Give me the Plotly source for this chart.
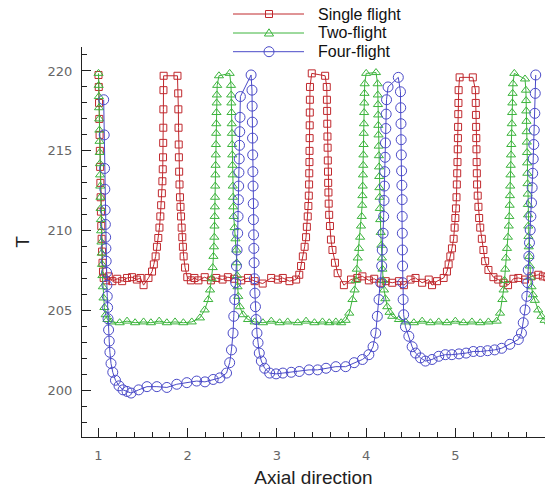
import plotly.graph_objects as go

# Axial temperature profiles for single-, two- and four-flight screws
single_x = [1.000, 1.003, 1.006, 1.009, 1.012, 1.015, 1.018, 1.021, 1.024, 1.027, 1.031, 1.035, 1.040, 1.045, 1.050, 1.058,
            1.085, 1.115, 1.155, 1.21, 1.265, 1.32, 1.375, 1.43, 1.47, 1.505, 1.56,
            1.60, 1.62, 1.64, 1.655, 1.67, 1.683, 1.693, 1.702, 1.71, 1.716, 1.72, 1.723, 1.725, 1.726, 1.727, 1.728, 1.73, 1.885,
            1.893, 1.895, 1.897, 1.899, 1.901, 1.904, 1.908, 1.913, 1.919, 1.925, 1.932, 1.939, 1.946, 1.954, 1.97, 1.995, 2.035,
            2.075, 2.12, 2.19, 2.26, 2.32, 2.39, 2.45, 2.52, 2.60, 2.675, 2.75, 2.84, 2.935, 3.01, 3.065, 3.14, 3.215,
            3.25, 3.27, 3.29, 3.31, 3.326, 3.335, 3.345, 3.352, 3.357, 3.36, 3.362, 3.364, 3.365, 3.366, 3.367, 3.368, 3.369, 3.37, 3.39, 3.54,
            3.558, 3.56, 3.562, 3.564, 3.566, 3.568, 3.57, 3.572, 3.574, 3.577, 3.58, 3.585, 3.594, 3.605, 3.622, 3.65, 3.68, 3.75,
            3.83, 3.90, 3.958, 4.03, 4.09, 4.163, 4.219, 4.292, 4.367, 4.423, 4.497, 4.553, 4.627, 4.701, 4.738, 4.794, 4.868,
            4.905, 4.924, 4.943, 4.961, 4.98, 4.991, 4.999, 5.006, 5.012, 5.016, 5.02, 5.023, 5.026, 5.028, 5.03, 5.032, 5.034, 5.036, 5.047, 5.195,
            5.225, 5.228, 5.23, 5.232, 5.234, 5.236, 5.238, 5.24, 5.243, 5.25, 5.258, 5.266, 5.278, 5.296, 5.314, 5.333, 5.37, 5.426, 5.48, 5.537, 5.59,
            5.65, 5.705, 5.78, 5.853, 5.93, 5.98, 6.03]
single_y = [219.75, 219.0, 218.0, 217.0, 216.0, 215.0, 214.0, 213.0, 212.1, 211.2, 210.3, 209.5, 208.7, 208.0, 207.45, 207.05,
            206.9, 207.15, 206.85, 207.0, 206.85, 207.05, 207.1, 206.95, 207.05, 206.6, 207.05,
            207.45, 207.9, 208.4, 209.0, 209.55, 210.2, 210.9, 211.6, 212.35, 213.1, 213.85, 214.6, 215.5, 216.45, 217.6, 218.8, 219.7, 219.7,
            218.6, 217.6, 216.45, 215.4, 214.6, 213.7, 212.9, 212.1, 211.5, 210.9, 210.2, 209.6, 209.0, 208.4, 207.7, 207.1, 206.9,
            207.05, 206.9, 207.1, 206.9, 207.05, 206.95, 207.1, 207.0, 206.9, 207.05, 206.85, 206.7, 207.05, 206.95, 207.05, 206.85, 206.95,
            207.25, 207.8, 208.4, 209.0, 209.6, 210.25, 210.9, 211.55, 212.2, 212.9, 213.6, 214.3, 215.0, 215.8, 216.6, 217.4, 218.2, 219.0, 219.85, 219.7,
            219.0, 218.2, 217.5, 216.7, 215.9, 215.2, 214.4, 213.7, 213.0, 212.4, 211.7, 211.0, 210.3, 209.45, 208.8, 208.0, 207.35, 206.6,
            206.95, 207.05, 207.15, 206.9, 207.0, 206.75, 206.85, 206.75, 206.85, 206.6, 206.95, 207.05, 206.75, 206.95, 206.6, 206.85, 207.05,
            207.45, 207.9, 208.4, 208.9, 209.5, 210.2, 210.8, 211.4, 212.1, 212.9, 213.6, 214.3, 215.1, 215.8, 216.5, 217.3, 218.0, 218.8, 219.6, 219.6,
            218.8, 218.0, 217.25, 216.5, 215.8, 215.1, 214.3, 213.6, 212.9, 212.2, 211.5, 210.8, 210.2, 209.5, 208.8, 208.1, 207.55, 207.1, 206.95, 206.75, 206.6,
            207.0, 207.05, 206.95, 207.15, 207.25, 207.15, 207.1]

two_x = [1.000, 1.002, 1.004, 1.006, 1.008, 1.010, 1.012, 1.014, 1.016, 1.018, 1.020, 1.022, 1.024, 1.027, 1.030, 1.033, 1.036, 1.040, 1.044, 1.049, 1.056, 1.066, 1.08, 1.10,
         1.14, 1.237, 1.32, 1.41, 1.505, 1.587, 1.68, 1.766, 1.858, 1.951, 2.045,
         2.137, 2.19, 2.23, 2.25, 2.267, 2.28, 2.288, 2.294, 2.298, 2.30, 2.302, 2.304, 2.306, 2.308, 2.31, 2.312, 2.314, 2.316, 2.318, 2.32, 2.322, 2.324, 2.326, 2.33, 2.35, 2.47,
         2.485, 2.487, 2.489, 2.491, 2.493, 2.495, 2.497, 2.499, 2.501, 2.503, 2.505, 2.507, 2.51, 2.515, 2.525, 2.535, 2.544, 2.55, 2.553, 2.558, 2.566, 2.583, 2.62, 2.676,
         2.75, 2.843, 2.936, 3.03, 3.12, 3.233, 3.326, 3.42, 3.51, 3.586, 3.66, 3.72,
         3.77, 3.81, 3.846, 3.87, 3.884, 3.895, 3.905, 3.92, 3.932, 3.942, 3.95, 3.955, 3.958, 3.961, 3.964, 3.967, 3.969, 3.971, 3.973, 3.975, 3.977, 3.979, 3.981, 3.983, 4.0, 4.11,
         4.128, 4.13, 4.132, 4.134, 4.136, 4.138, 4.14, 4.142, 4.144, 4.146, 4.148, 4.15, 4.153, 4.157, 4.163, 4.17, 4.176, 4.182, 4.19, 4.2, 4.215, 4.236, 4.262, 4.292, 4.367,
         4.44, 4.534, 4.627, 4.72, 4.813, 4.905, 4.999, 5.09, 5.185, 5.278, 5.37,
         5.463, 5.5, 5.526, 5.54, 5.55, 5.558, 5.566, 5.578, 5.588, 5.598, 5.604, 5.608, 5.611, 5.614, 5.617, 5.62, 5.623, 5.626, 5.629, 5.632, 5.635, 5.638, 5.641, 5.645, 5.66, 5.78,
         5.79, 5.792, 5.794, 5.796, 5.798, 5.8, 5.802, 5.804, 5.806, 5.808, 5.81, 5.812, 5.814, 5.816, 5.818, 5.822, 5.828, 5.835, 5.843, 5.853, 5.868, 5.89, 5.928, 5.965, 6.0, 6.05]
two_y = [219.85, 219.1, 218.4, 217.7, 217.0, 216.3, 215.6, 214.9, 214.2, 213.5, 212.8, 212.1, 211.4, 210.7, 210.0, 209.3, 208.6, 207.9, 207.2, 206.5, 205.8, 205.2, 204.75, 204.45,
         204.3, 204.25, 204.35, 204.25, 204.3, 204.25, 204.35, 204.25, 204.3, 204.25, 204.3,
         204.55, 205.05, 205.7, 206.3, 207.0, 207.7, 208.4, 209.0, 209.6, 210.3, 210.9, 211.5, 212.1, 212.8, 213.5, 214.1, 214.75, 215.4, 216.1, 216.7, 217.4, 218.0, 218.5, 219.1, 219.7, 219.85,
         219.1, 218.5, 218.0, 217.4, 216.7, 216.1, 215.4, 214.75, 214.1, 213.5, 212.8, 212.1, 211.5, 210.9, 210.2, 209.5, 208.8, 208.0, 207.2, 206.5, 205.9, 205.25, 204.75, 204.45,
         204.3, 204.25, 204.35, 204.25, 204.3, 204.25, 204.35, 204.25, 204.3, 204.25, 204.3, 204.25,
         204.4, 204.85, 205.7, 206.3, 206.9, 207.6, 208.3, 208.9, 209.6, 210.3, 210.9, 211.6, 212.2, 212.8, 213.5, 214.1, 214.75, 215.4, 216.1, 216.7, 217.4, 218.0, 218.6, 219.2, 219.85, 219.9,
         219.2, 218.5, 217.9, 217.25, 216.6, 216.0, 215.3, 214.7, 214.0, 213.4, 212.7, 212.1, 211.4, 210.7, 209.9, 209.1, 208.3, 207.6, 206.9, 206.3, 205.75, 205.25, 204.9, 204.65, 204.45,
         204.3, 204.25, 204.35, 204.25, 204.3, 204.25, 204.35, 204.25, 204.3, 204.25, 204.3,
         204.35, 204.85, 205.7, 206.3, 206.9, 207.6, 208.3, 208.9, 209.6, 210.3, 210.9, 211.6, 212.2, 212.8, 213.5, 214.1, 214.75, 215.4, 216.1, 216.7, 217.4, 218.0, 218.6, 219.2, 219.85, 219.5,
         218.8, 218.15, 217.5, 216.85, 216.2, 215.55, 214.9, 214.25, 213.6, 212.95, 212.3, 211.65, 211.0, 210.3, 209.65, 209.0, 208.4, 207.8, 207.1, 206.5, 206.0, 205.65, 205.05, 204.65, 204.4, 204.3]

four_x = [1.058, 1.064, 1.068, 1.071, 1.074, 1.077, 1.08, 1.083, 1.086, 1.09, 1.094, 1.098, 1.102, 1.107, 1.113, 1.12, 1.128, 1.14, 1.16, 1.19, 1.23, 1.275, 1.32, 1.365,
          1.45, 1.543, 1.654, 1.766, 1.877, 1.99, 2.10, 2.193, 2.285, 2.36, 2.435,
          2.47, 2.49, 2.508, 2.516, 2.527, 2.538, 2.546, 2.553, 2.56, 2.564, 2.568, 2.571, 2.574, 2.577, 2.58, 2.583, 2.586, 2.59, 2.71,
          2.72, 2.722, 2.724, 2.726, 2.728, 2.73, 2.732, 2.734, 2.736, 2.738, 2.741, 2.744, 2.748, 2.753, 2.759, 2.766, 2.776, 2.788, 2.802, 2.825, 2.862, 2.918,
          2.99, 3.066, 3.16, 3.25, 3.36, 3.456, 3.55, 3.66, 3.77, 3.865, 3.958, 4.03, 4.077,
          4.107, 4.125, 4.144, 4.163, 4.174, 4.18, 4.19, 4.196, 4.2, 4.204, 4.208, 4.212, 4.216, 4.22, 4.224, 4.228, 4.245, 4.36,
          4.384, 4.387, 4.39, 4.392, 4.394, 4.397, 4.40, 4.403, 4.404, 4.405, 4.406, 4.408, 4.41, 4.414, 4.42, 4.44, 4.478, 4.515, 4.553, 4.609, 4.664,
          4.738, 4.813, 4.887, 4.96, 5.04, 5.12, 5.2, 5.28, 5.36, 5.44, 5.518, 5.61, 5.705, 5.74,
          5.76, 5.78, 5.8, 5.81, 5.816, 5.823, 5.83, 5.838, 5.846, 5.853, 5.86, 5.866, 5.872, 5.878, 5.884, 5.89, 5.895, 5.90]
four_y = [218.2, 216.0, 213.9, 212.6, 211.3, 210.4, 209.6, 208.9, 208.1, 207.4, 206.6, 205.9, 205.2, 204.5, 203.8, 203.1, 202.4, 201.7, 201.15, 200.65, 200.3, 200.05, 199.95, 199.85,
          200.05, 200.25, 200.25, 200.2, 200.4, 200.5, 200.6, 200.55, 200.7, 200.8, 201.1,
          201.75, 202.55, 203.6, 204.65, 205.7, 206.75, 207.8, 208.8, 209.85, 210.9, 211.95, 212.8, 213.65, 214.5, 215.35, 216.2, 217.1, 218.4, 219.75,
          218.8, 217.8, 216.8, 215.8, 214.75, 213.7, 212.8, 211.7, 210.7, 209.75, 208.9, 208.0, 207.0, 206.1, 205.25, 204.45, 203.6, 203.0, 202.35, 201.85, 201.4, 201.1,
          201.05, 201.1, 201.15, 201.2, 201.3, 201.3, 201.4, 201.5, 201.5, 201.75, 201.95, 202.25, 202.75,
          203.6, 204.65, 205.7, 206.75, 207.8, 208.8, 209.85, 210.9, 211.9, 212.8, 213.7, 214.6, 215.5, 216.4, 217.3, 218.2, 219.0, 219.6,
          218.7, 217.7, 216.7, 215.7, 214.75, 213.75, 212.85, 211.95, 210.9, 209.85, 208.8, 207.8, 206.75, 205.7, 204.75, 204.0, 203.4, 202.75, 202.35, 202.05, 201.85,
          201.95, 202.15, 202.25, 202.25, 202.3, 202.35, 202.45, 202.45, 202.5, 202.55, 202.65, 202.9, 203.2, 203.6,
          204.25, 205.05, 205.9, 206.75, 207.55, 208.4, 209.25, 210.05, 210.9, 211.75, 212.7, 213.6, 214.5, 215.4, 216.3, 217.35, 218.6, 219.75]

series_names = ["Single flight", "Two-flight", "Four-flight"]
series_colors = ["#c0282d", "#3cb43c", "#4a4ac8"]
series_symbols = ["square-open", "triangle-up-open", "circle-open"]
series_sizes = [7, 8, 10]

x_ticks = [1, 2, 3, 4, 5, 6]
y_ticks = [200, 205, 210, 215, 220]

fig = go.Figure()
for xs, ys, name, col, sym, sz in zip([single_x, two_x, four_x], [single_y, two_y, four_y],
                                      series_names, series_colors, series_symbols, series_sizes):
    fig.add_trace(go.Scatter(
        x=xs, y=ys, name=name, mode="lines+markers", showlegend=False,
        line=dict(color=col, width=1),
        marker=dict(symbol=sym, size=sz, color=col, line=dict(color=col, width=1)),
    ))

# Plot-area geometry in pixels
L, R, T, B = 82, 0, 47, 52
W, H = 545, 489
pw, ph = W - L - R, H - T - B


def px_x(p):
    return (p - L) / pw


def px_y(p):
    return (H - B - p) / ph


# Hand-placed legend: line sample, marker and label per series
shapes = []
annotations = []
rows = [14, 33, 51.7]
for row, name, col, sym in zip(rows, series_names, series_colors, series_symbols):
    yp = px_y(row)
    shapes.append(dict(type="line", xref="paper", yref="paper",
                       x0=px_x(233), x1=px_x(304), y0=yp, y1=yp,
                       line=dict(color=col, width=1)))
    common = dict(xref="paper", yref="paper", xsizemode="pixel", ysizemode="pixel",
                  xanchor=px_x(269), yanchor=yp, line=dict(color=col, width=1),
                  fillcolor="rgba(0,0,0,0)")
    if sym.startswith("square"):
        shapes.append(dict(type="rect", x0=-3.5, x1=3.5, y0=-3.5, y1=3.5, **common))
    elif sym.startswith("triangle"):
        shapes.append(dict(type="path", path="M -4.6,-3 L 4.6,-3 L 0,4.2 Z", **common))
    else:
        shapes.append(dict(type="circle", x0=-5, x1=5, y0=-5, y1=5, **common))
    annotations.append(dict(xref="paper", yref="paper", x=px_x(316), y=yp,
                            xanchor="left", yanchor="middle", showarrow=False,
                            text=name, font=dict(family="Liberation Sans", size=16, color="#111")))

axis_common = dict(
    showline=True, linecolor="#222", linewidth=1.2,
    ticks="inside", ticklen=9, tickwidth=1, tickcolor="#222",
    showgrid=False, zeroline=False,
    tickfont=dict(family="DejaVu Sans", size=13, color="#666"),
    ticklabelstandoff=6,
)

fig.update_layout(
    width=W, height=H,
    margin=dict(l=L, r=R, t=T, b=B, pad=0),
    paper_bgcolor="white", plot_bgcolor="white",
    shapes=shapes, annotations=annotations,
    xaxis=dict(range=[0.815, 6.004], tickmode="array", tickvals=x_ticks,
               minor=dict(ticks="inside", ticklen=5, tickwidth=1, tickcolor="#222", dtick=0.2, tick0=1, showgrid=False),
               title=dict(text="Axial direction", font=dict(family="Liberation Sans", size=19, color="#222"), standoff=8),
               **axis_common),
    yaxis=dict(range=[197.1, 221.5], tickmode="array", tickvals=y_ticks,
               minor=dict(ticks="inside", ticklen=5, tickwidth=1, tickcolor="#222", dtick=1, tick0=200, showgrid=False),
               title=dict(text="T", font=dict(family="Liberation Sans", size=19, color="#222"), standoff=12),
               **axis_common),
)

fig.write_html("out.html")
